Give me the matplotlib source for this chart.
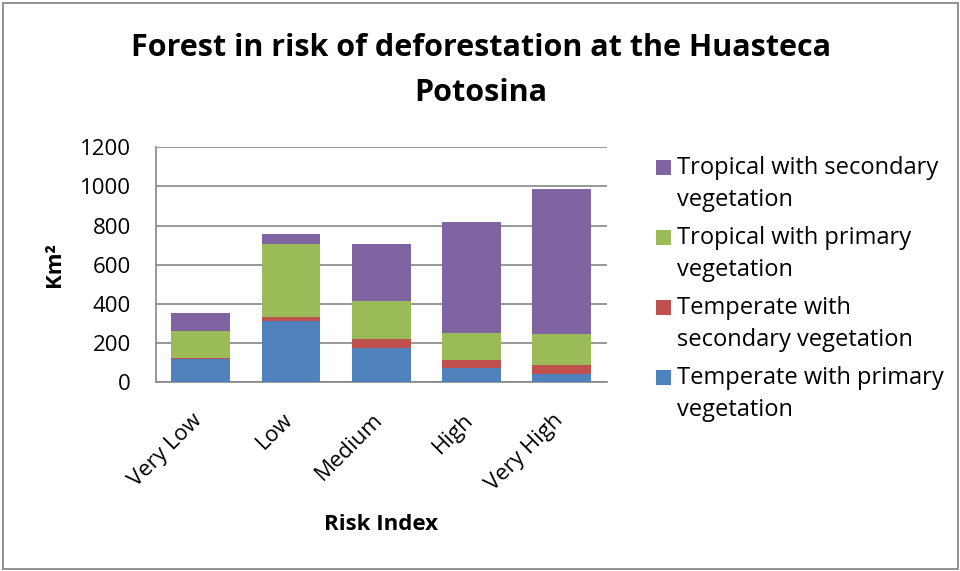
import matplotlib
matplotlib.use("Agg")
import matplotlib.pyplot as plt
from matplotlib.patches import Rectangle
import numpy as np

categories = ["Very Low", "Low", "Medium", "High", "Very High"]
temperate_primary = [117, 313, 177, 75, 44]
temperate_secondary = [9, 22, 43, 41, 44]
tropical_primary = [136, 371, 194, 138, 157]
tropical_secondary = [90, 50, 291, 563, 742]

series = [
    ("Temperate with primary\nvegetation", temperate_primary, "#4F81BD"),
    ("Temperate with\nsecondary vegetation", temperate_secondary, "#C0504D"),
    ("Tropical with primary\nvegetation", tropical_primary, "#9BBB59"),
    ("Tropical with secondary\nvegetation", tropical_secondary, "#8064A2"),
]
y_ticks = [0, 200, 400, 600, 800, 1000, 1200]

FONT = "Open Sans"
plt.rcParams["font.family"] = [FONT, "DejaVu Sans"]
FS = 16
FS_LEG = 17

W, H = 960, 571
fig = plt.figure(figsize=(W / 100, H / 100), dpi=100)
fig.patch.set_facecolor("white")

def fx(px):
    return px / W

def fy(py):
    return 1 - py / H

# outer border
fig.add_artist(Rectangle((fx(3), fy(569)), fx(955), (566) / H, transform=fig.transFigure,
                         fill=False, edgecolor="#888888", lw=1.3))

left, right, top, bottom = 155.7, 606.7, 147.3, 382.3
ax = fig.add_axes([fx(left), fy(bottom), fx(right - left), (bottom - top) / H])

x = np.arange(len(categories))
base = np.zeros(len(categories))
for label, vals, col in series:
    ax.bar(x, vals, width=0.65, bottom=base, color=col, zorder=3)
    base = base + np.array(vals)

ax.set_xlim(-0.5, len(categories) - 0.5)
ax.set_ylim(0, 1200)
ax.set_yticks(y_ticks)
ax.set_yticklabels([str(v) for v in y_ticks], fontsize=FS)
ax.set_xticks(x)
ax.set_xticklabels([])
for xi, cat in zip(x, categories):
    ax.annotate(cat, xy=(xi, 0), xycoords=("data", "axes fraction"),
                xytext=(-6.5, -19.5), textcoords="offset points",
                rotation=45, ha="right", va="top", rotation_mode="anchor",
                fontsize=FS, annotation_clip=False)
ax.tick_params(axis="both", length=0)
ax.tick_params(axis="y", pad=18)
ax.grid(axis="y", color="#868686", lw=1.2, zorder=0)
for s in ["top", "right"]:
    ax.spines[s].set_visible(False)
for s in ["left", "bottom"]:
    ax.spines[s].set_color("#868686")
    ax.spines[s].set_linewidth(1.2)

fig.text(fx(381), fy(524), "Risk Index", fontsize=FS, fontweight="bold",
         ha="center", va="center")
fig.text(fx(55), fy(265), "Km²", fontsize=FS, fontweight="bold",
         ha="center", va="center", rotation=90)

fig.text(fx(481), fy(48), "Forest in risk of deforestation at the Huasteca",
         fontsize=22, fontweight="bold", ha="center", va="center")
fig.text(fx(481), fy(93), "Potosina",
         fontsize=22, fontweight="bold", ha="center", va="center")

# legend (top entry = last series)
row_y = [167, 237, 307, 377]
for (label, vals, col), yy in zip(series[::-1], row_y):
    fig.add_artist(Rectangle((fx(656), fy(yy + 7.5)), fx(15), 15 / H,
                             transform=fig.transFigure, facecolor=col, edgecolor="none"))
    l1, l2 = label.split("\n")
    fig.text(fx(677), fy(yy + 1), l1, fontsize=FS_LEG, ha="left", va="center")
    fig.text(fx(677), fy(yy + 33), l2, fontsize=FS_LEG, ha="left", va="center")

fig.savefig("out.png", dpi=100, facecolor="white")
